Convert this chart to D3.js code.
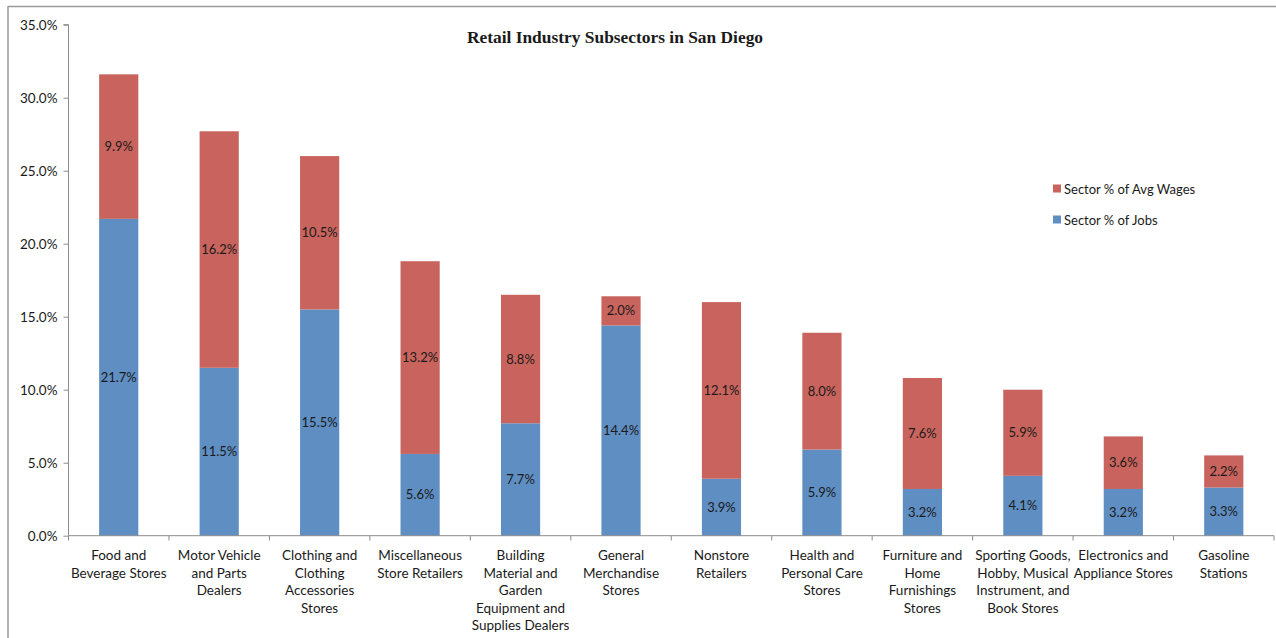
<!DOCTYPE html>
<html>
<head>
<meta charset="utf-8">
<script src="https://cdn.jsdelivr.net/npm/d3@7"></script>
<style>
  html, body { margin: 0; padding: 0; background: #fff; }
  svg { display: block; font-family: Lato, "Open Sans", sans-serif; }
  text { fill: #1a1a1a; }
</style>
</head>
<body>
<svg id="chart" width="1276" height="638"></svg>
<script>
// Retail subsectors, in chart order
const categories = [
  ["Food and", "Beverage Stores"],
  ["Motor Vehicle", "and Parts", "Dealers"],
  ["Clothing and", "Clothing", "Accessories", "Stores"],
  ["Miscellaneous", "Store Retailers"],
  ["Building", "Material and", "Garden", "Equipment and", "Supplies Dealers"],
  ["General", "Merchandise", "Stores"],
  ["Nonstore", "Retailers"],
  ["Health and", "Personal Care", "Stores"],
  ["Furniture and", "Home", "Furnishings", "Stores"],
  ["Sporting Goods,", "Hobby, Musical", "Instrument, and", "Book Stores"],
  ["Electronics and", "Appliance Stores"],
  ["Gasoline", "Stations"]
];
// Share of jobs (%) - bottom segment
const jobsShare = [21.7, 11.5, 15.5, 5.6, 7.7, 14.4, 3.9, 5.9, 3.2, 4.1, 3.2, 3.3];
// Share of average wages (%) - top segment
const wagesShare = [9.9, 16.2, 10.5, 13.2, 8.8, 2.0, 12.1, 8.0, 7.6, 5.9, 3.6, 2.2];
const yTicks = [0, 5, 10, 15, 20, 25, 30, 35];
const seriesNames = ["Sector % of Jobs", "Sector % of Avg Wages"];
const title = "Retail Industry Subsectors in San Diego";

const colors = { jobs: "#5f8ec2", wages: "#c8645d" };

const svg = d3.select("#chart");
const W = 1276, H = 638;

// outer frame (top and left edges)
svg.append("line").attr("x1", 8).attr("x2", W).attr("y1", 6.5).attr("y2", 6.5)
  .attr("stroke", "#9a9a9a").attr("stroke-width", 1.5);
svg.append("line").attr("x1", 8).attr("x2", 8).attr("y1", 6).attr("y2", H)
  .attr("stroke", "#9a9a9a").attr("stroke-width", 1.5);

const x = d3.scaleBand()
  .domain(d3.range(categories.length))
  .range([68.5, 1274])
  .paddingInner(0.61)
  .paddingOuter(0.305);

const y = d3.scaleLinear().domain([0, 35]).range([535.7, 24.7]);

// stacked data
const rows = categories.map((c, i) => ({ i, jobs: jobsShare[i], wages: wagesShare[i] }));
const stack = d3.stack().keys(["jobs", "wages"])(rows);

const g = svg.append("g");
stack.forEach(layer => {
  g.append("g").selectAll("rect").data(layer).join("rect")
    .attr("x", d => x(d.data.i))
    .attr("width", x.bandwidth())
    .attr("y", d => y(d[1]))
    .attr("height", d => y(d[0]) - y(d[1]))
    .attr("fill", colors[layer.key]);
});

// value labels centered in each segment
stack.forEach(layer => {
  g.append("g").selectAll("text").data(layer).join("text")
    .attr("x", d => x(d.data.i) + x.bandwidth() / 2)
    .attr("y", d => y((d[0] + d[1]) / 2))
    .attr("dy", "0.35em")
    .attr("text-anchor", "middle")
    .attr("font-size", 13)
    .text(d => d.data[layer.key].toFixed(1) + "%");
});

// y axis
const yAxis = d3.axisLeft(y).tickValues(yTicks)
  .tickFormat(d => d.toFixed(1) + "%").tickSize(5).tickPadding(6);
const ya = svg.append("g").attr("transform", "translate(68.5,0)").call(yAxis);
ya.attr("font-family", null).attr("font-size", null);
ya.select(".domain").attr("stroke", "#8c8c8c").attr("d", "M-5,24.7H0V535.7");
ya.selectAll(".tick line").attr("stroke", "#8c8c8c");
ya.selectAll(".tick text").attr("font-size", 13.5)
  .attr("fill", "#1a1a1a").attr("x", -11);

// x axis baseline and category separators
const xa = svg.append("g");
xa.append("line").attr("x1", 68.5).attr("x2", 1274).attr("y1", 535.7).attr("y2", 535.7)
  .attr("stroke", "#8c8c8c");
const step = x.step();
xa.selectAll("line.sep").data(d3.range(categories.length + 1)).join("line")
  .attr("class", "sep")
  .attr("x1", i => 68.5 + i * step).attr("x2", i => 68.5 + i * step)
  .attr("y1", 535.7).attr("y2", 540.5)
  .attr("stroke", "#8c8c8c");

// category labels
xa.selectAll("text.cat").data(categories).join("text")
  .attr("class", "cat")
  .attr("text-anchor", "middle")
  .attr("font-size", 13.5)
  .attr("transform", (d, i) => `translate(${x(i) + x.bandwidth() / 2},560)`)
  .selectAll("tspan").data(d => d).join("tspan")
  .attr("x", 0)
  .attr("y", (d, j) => j * 17.5)
  .text(d => d);

// title
svg.append("text")
  .attr("x", 615).attr("y", 42.5)
  .attr("text-anchor", "middle")
  .style("font-family", "'Liberation Serif', 'Times New Roman', serif")
  .style("font-weight", "bold")
  .style("font-size", "17.4px")
  .text(title);

// legend
const legend = svg.append("g").attr("transform", "translate(1053,0)");
const legendItems = [
  { name: seriesNames[1], color: colors.wages, y: 189 },
  { name: seriesNames[0], color: colors.jobs, y: 220 }
];
legend.selectAll("rect").data(legendItems).join("rect")
  .attr("x", 0).attr("y", d => d.y - 4.5).attr("width", 8).attr("height", 8)
  .attr("fill", d => d.color);
legend.selectAll("text").data(legendItems).join("text")
  .attr("x", 11).attr("y", d => d.y).attr("dy", "0.35em")
  .attr("font-size", 13)
  .text(d => d.name);
</script>
</body>
</html>
